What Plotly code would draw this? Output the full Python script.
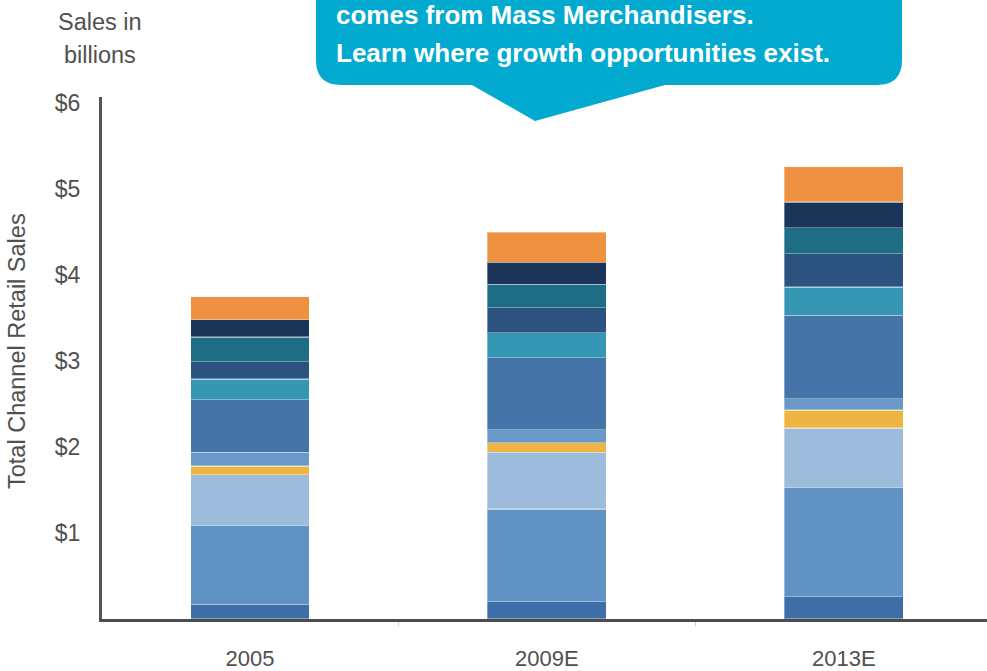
import plotly.graph_objects as go

# ---- data ----
years = ["2005", "2009E", "2013E"]
segments = ["Channel A", "Channel B", "Channel C", "Channel D", "Channel E", "Channel F",
            "Channel G", "Channel H", "Channel I", "Channel J", "Channel K"]
seg_colors = ["#3d6ea6", "#6092c3", "#9dbcdb", "#eeb543", "#6a98c8", "#4474a8",
              "#3597b3", "#2c5380", "#1f6d84", "#1b3558", "#ee9140"]
values_2005 = [0.17, 0.92, 0.59, 0.10, 0.16, 0.61, 0.24, 0.20, 0.29, 0.20, 0.27]
values_2009 = [0.20, 1.08, 0.66, 0.11, 0.15, 0.84, 0.29, 0.29, 0.27, 0.26, 0.35]
values_2013 = [0.26, 1.27, 0.69, 0.21, 0.13, 0.97, 0.33, 0.39, 0.30, 0.30, 0.41]
y_tickvals = [1, 2, 3, 4, 5, 6]
y_ticktext = ["$1", "$2", "$3", "$4", "$5", "$6"]

W, H = 987, 671
L, R, T, B = 102, 0, 97, 52
PW, PH = W - L - R, H - T - B


def px(x):
    return (x - L) / PW


def py(y):
    return (H - B - y) / PH


fig = go.Figure()
for i, name in enumerate(segments):
    fig.add_trace(go.Bar(
        x=years,
        y=[values_2005[i], values_2009[i], values_2013[i]],
        name=name,
        marker=dict(color=seg_colors[i], line=dict(color="rgba(255,255,255,0.35)", width=1.2)),
        width=0.4,
        hoverinfo="name+y",
    ))

# callout box with pointer
r = 25
box_l, box_r, box_b, box_t = 316, 902, 85, -40
path = (
    f"M {px(box_l)},{py(box_t)} L {px(box_l)},{py(box_b - r)} "
    f"Q {px(box_l)},{py(box_b)} {px(box_l + r)},{py(box_b)} "
    f"L {px(472)},{py(box_b)} L {px(535)},{py(121)} L {px(665)},{py(box_b)} "
    f"L {px(box_r - r)},{py(box_b)} Q {px(box_r)},{py(box_b)} {px(box_r)},{py(box_b - r)} "
    f"L {px(box_r)},{py(box_t)} Z"
)
shapes = [dict(type="path", xref="paper", yref="paper", path=path,
               fillcolor="#03aacf", line=dict(width=0), layer="above")]

FAM = "Liberation Sans, Arial, sans-serif"
txt_font = dict(family=FAM, size=23.5, color="#505050")
bold_font = dict(family=FAM, size=26, color="white", weight="bold")
annotations = [
    dict(text="comes from Mass Merchandisers.", x=px(334), y=py(15), xref="paper", yref="paper",
         xanchor="left", yanchor="middle", showarrow=False, font=bold_font),
    dict(text="Learn where growth opportunities exist.", x=px(334), y=py(53), xref="paper", yref="paper",
         xanchor="left", yanchor="middle", showarrow=False, font=bold_font),
    dict(text="Sales in", x=px(100), y=py(22), xref="paper", yref="paper",
         xanchor="center", yanchor="middle", showarrow=False, font=txt_font),
    dict(text="billions", x=px(100), y=py(55), xref="paper", yref="paper",
         xanchor="center", yanchor="middle", showarrow=False, font=txt_font),
    dict(text="Total Channel Retail Sales", x=px(17), y=py(351), xref="paper", yref="paper",
         xanchor="center", yanchor="middle", textangle=-90, showarrow=False, font=txt_font),
]

fig.update_layout(
    width=W, height=H,
    margin=dict(l=L, r=R, t=T, b=B, pad=0),
    barmode="stack",
    showlegend=False,
    plot_bgcolor="white", paper_bgcolor="white",
    bargap=0.6,
    shapes=shapes,
    annotations=annotations,
    xaxis=dict(
        type="category", range=[-0.498, 2.482], automargin=False,
        showline=True, linecolor="#4d4d4d", linewidth=2.5,
        ticks="outside", tickson="boundaries", ticklen=4, tickcolor="#cfcfcf", tickwidth=1,
        tickfont=dict(family=FAM, size=22, color="#505050"),
        ticklabelstandoff=18,
        showgrid=False, zeroline=False,
    ),
    yaxis=dict(
        range=[0, 6.07], automargin=False,
        tickvals=y_tickvals, ticktext=y_ticktext,
        showline=True, linecolor="#555555", linewidth=3,
        ticks="", showgrid=False, zeroline=False,
        tickfont=dict(family=FAM, size=23, color="#505050"),
        ticklabelstandoff=14,
    ),
)

fig.write_html(
    "out.html",
    config={"displayModeBar": False},
    post_script="document.body.style.margin='0';document.body.style.padding='0';"
                "document.body.style.overflow='hidden';",
)
